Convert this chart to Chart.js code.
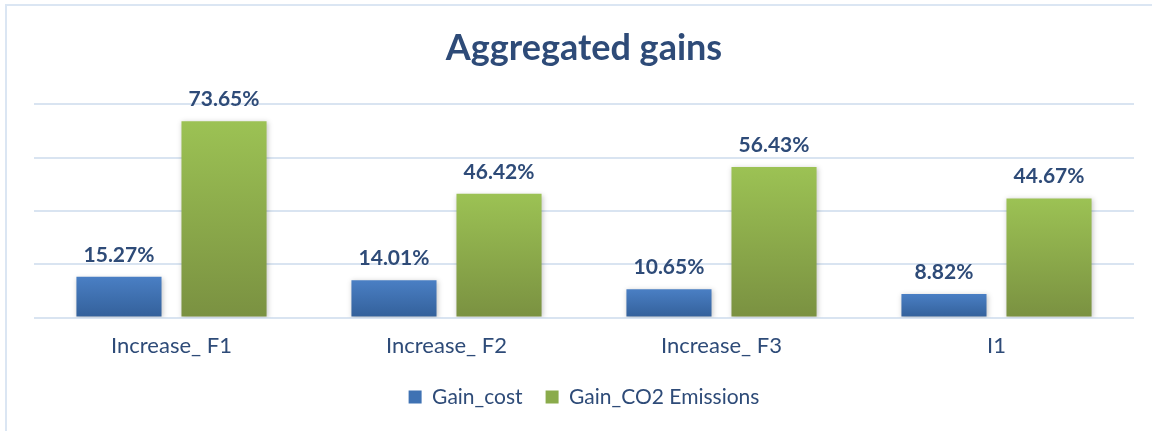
<!DOCTYPE html>
<html>
<head>
<meta charset="utf-8">
<script src="https://cdn.jsdelivr.net/npm/chart.js@4/dist/chart.umd.min.js"></script>
<style>
  html, body { margin: 0; padding: 0; background: #fff; }
  #wrap { position: relative; width: 1152px; height: 431px; }
  canvas { display: block; }
</style>
</head>
<body>
<div id="wrap"><canvas id="c" width="1152" height="431"></canvas></div>
<script>
const categories = ['Increase_ F1', 'Increase_ F2', 'Increase_ F3', 'I1'];
const gainCost = [15.27, 14.01, 10.65, 8.82];
const gainCO2 = [73.65, 46.42, 56.43, 44.67];
const seriesNames = ['Gain_cost', 'Gain_CO2 Emissions'];
const yMin = 0, yMax = 80, yStep = 20;

const FONT = 'Lato, "Open Sans", sans-serif';
const TEXT = '#2e4b78';

function gradFill(top, bottom) {
  return function(ctx) {
    const chart = ctx.chart;
    if (!chart.chartArea || ctx.raw == null) return top;
    const y = chart.scales.y;
    const t = y.getPixelForValue(ctx.raw);
    const b = y.getPixelForValue(0);
    const g = chart.ctx.createLinearGradient(0, t, 0, b);
    g.addColorStop(0, top);
    g.addColorStop(1, bottom);
    return g;
  };
}

const borderPlugin = {
  id: 'frame',
  beforeDraw(chart) {
    const c = chart.ctx;
    c.save();
    c.fillStyle = '#fff';
    c.fillRect(0, 0, chart.width, chart.height);
    c.strokeStyle = '#dbe6f3';
    c.lineWidth = 2;
    c.beginPath();
    c.moveTo(6, chart.height);
    c.lineTo(6, 5);
    c.lineTo(chart.width, 5);
    c.stroke();
    c.restore();
  }
};

const shadowPlugin = {
  id: 'barShadow',
  beforeDatasetsDraw(chart) {
    const c = chart.ctx;
    c.save();
    c.shadowColor = 'rgba(0,0,0,0.22)';
    c.shadowBlur = 5;
    c.shadowOffsetX = 1;
    c.shadowOffsetY = 1;
  },
  afterDatasetsDraw(chart) {
    chart.ctx.restore();
  }
};

const labelPlugin = {
  id: 'valueLabels',
  afterDatasetsDraw(chart) {
    const c = chart.ctx;
    c.save();
    c.font = 'bold 21px ' + FONT;
    c.fillStyle = TEXT;
    c.textAlign = 'center';
    c.textBaseline = 'alphabetic';
    chart.data.datasets.forEach((ds, i) => {
      const meta = chart.getDatasetMeta(i);
      meta.data.forEach((el, j) => {
        c.fillText(ds.data[j].toFixed(2) + '%', el.x, el.y - 15);
      });
    });
    c.restore();
  }
};

new Chart(document.getElementById('c'), {
  type: 'bar',
  data: {
    labels: categories,
    datasets: [
      { label: seriesNames[0], data: gainCost, backgroundColor: gradFill('#4a7fc4', '#33609a'), legendColor: '#3f72b3' },
      { label: seriesNames[1], data: gainCO2, backgroundColor: gradFill('#9cc254', '#7a9141'), legendColor: '#8aab4b' }
    ]
  },
  options: {
    responsive: false,
    animation: false,
    events: [],
    categoryPercentage: 0.764,
    barPercentage: 0.81,
    layout: { padding: { left: 34, right: 18, top: 0, bottom: 13.5 } },
    plugins: {
      title: {
        display: true,
        text: 'Aggregated gains',
        color: TEXT,
        font: { family: FONT, size: 36, weight: 'bold' },
        padding: { top: 27, bottom: 34 }
      },
      legend: {
        position: 'bottom',
        labels: {
          color: TEXT,
          font: { family: FONT, size: 21 },
          boxWidth: 13,
          boxHeight: 13,
          padding: 23,
          generateLabels(chart) {
            return chart.data.datasets.map((ds, i) => ({
              text: ds.label,
              fillStyle: ds.legendColor,
              strokeStyle: ds.legendColor,
              lineWidth: 0,
              fontColor: TEXT,
              datasetIndex: i
            }));
          }
        }
      },
      tooltip: { enabled: false }
    },
    scales: {
      x: {
        grid: { display: false },
        border: { display: false },
        ticks: { color: TEXT, font: { family: FONT, size: 22 }, padding: 7 },
        afterFit(scale) { scale.height -= 2.5; }
      },
      y: {
        min: yMin, max: yMax,
        ticks: { stepSize: yStep, display: false },
        grid: { color: '#d9e4f1', lineWidth: 2, drawTicks: false },
        border: { display: false }
      }
    }
  },
  plugins: [borderPlugin, shadowPlugin, labelPlugin]
});
</script>
</body>
</html>
